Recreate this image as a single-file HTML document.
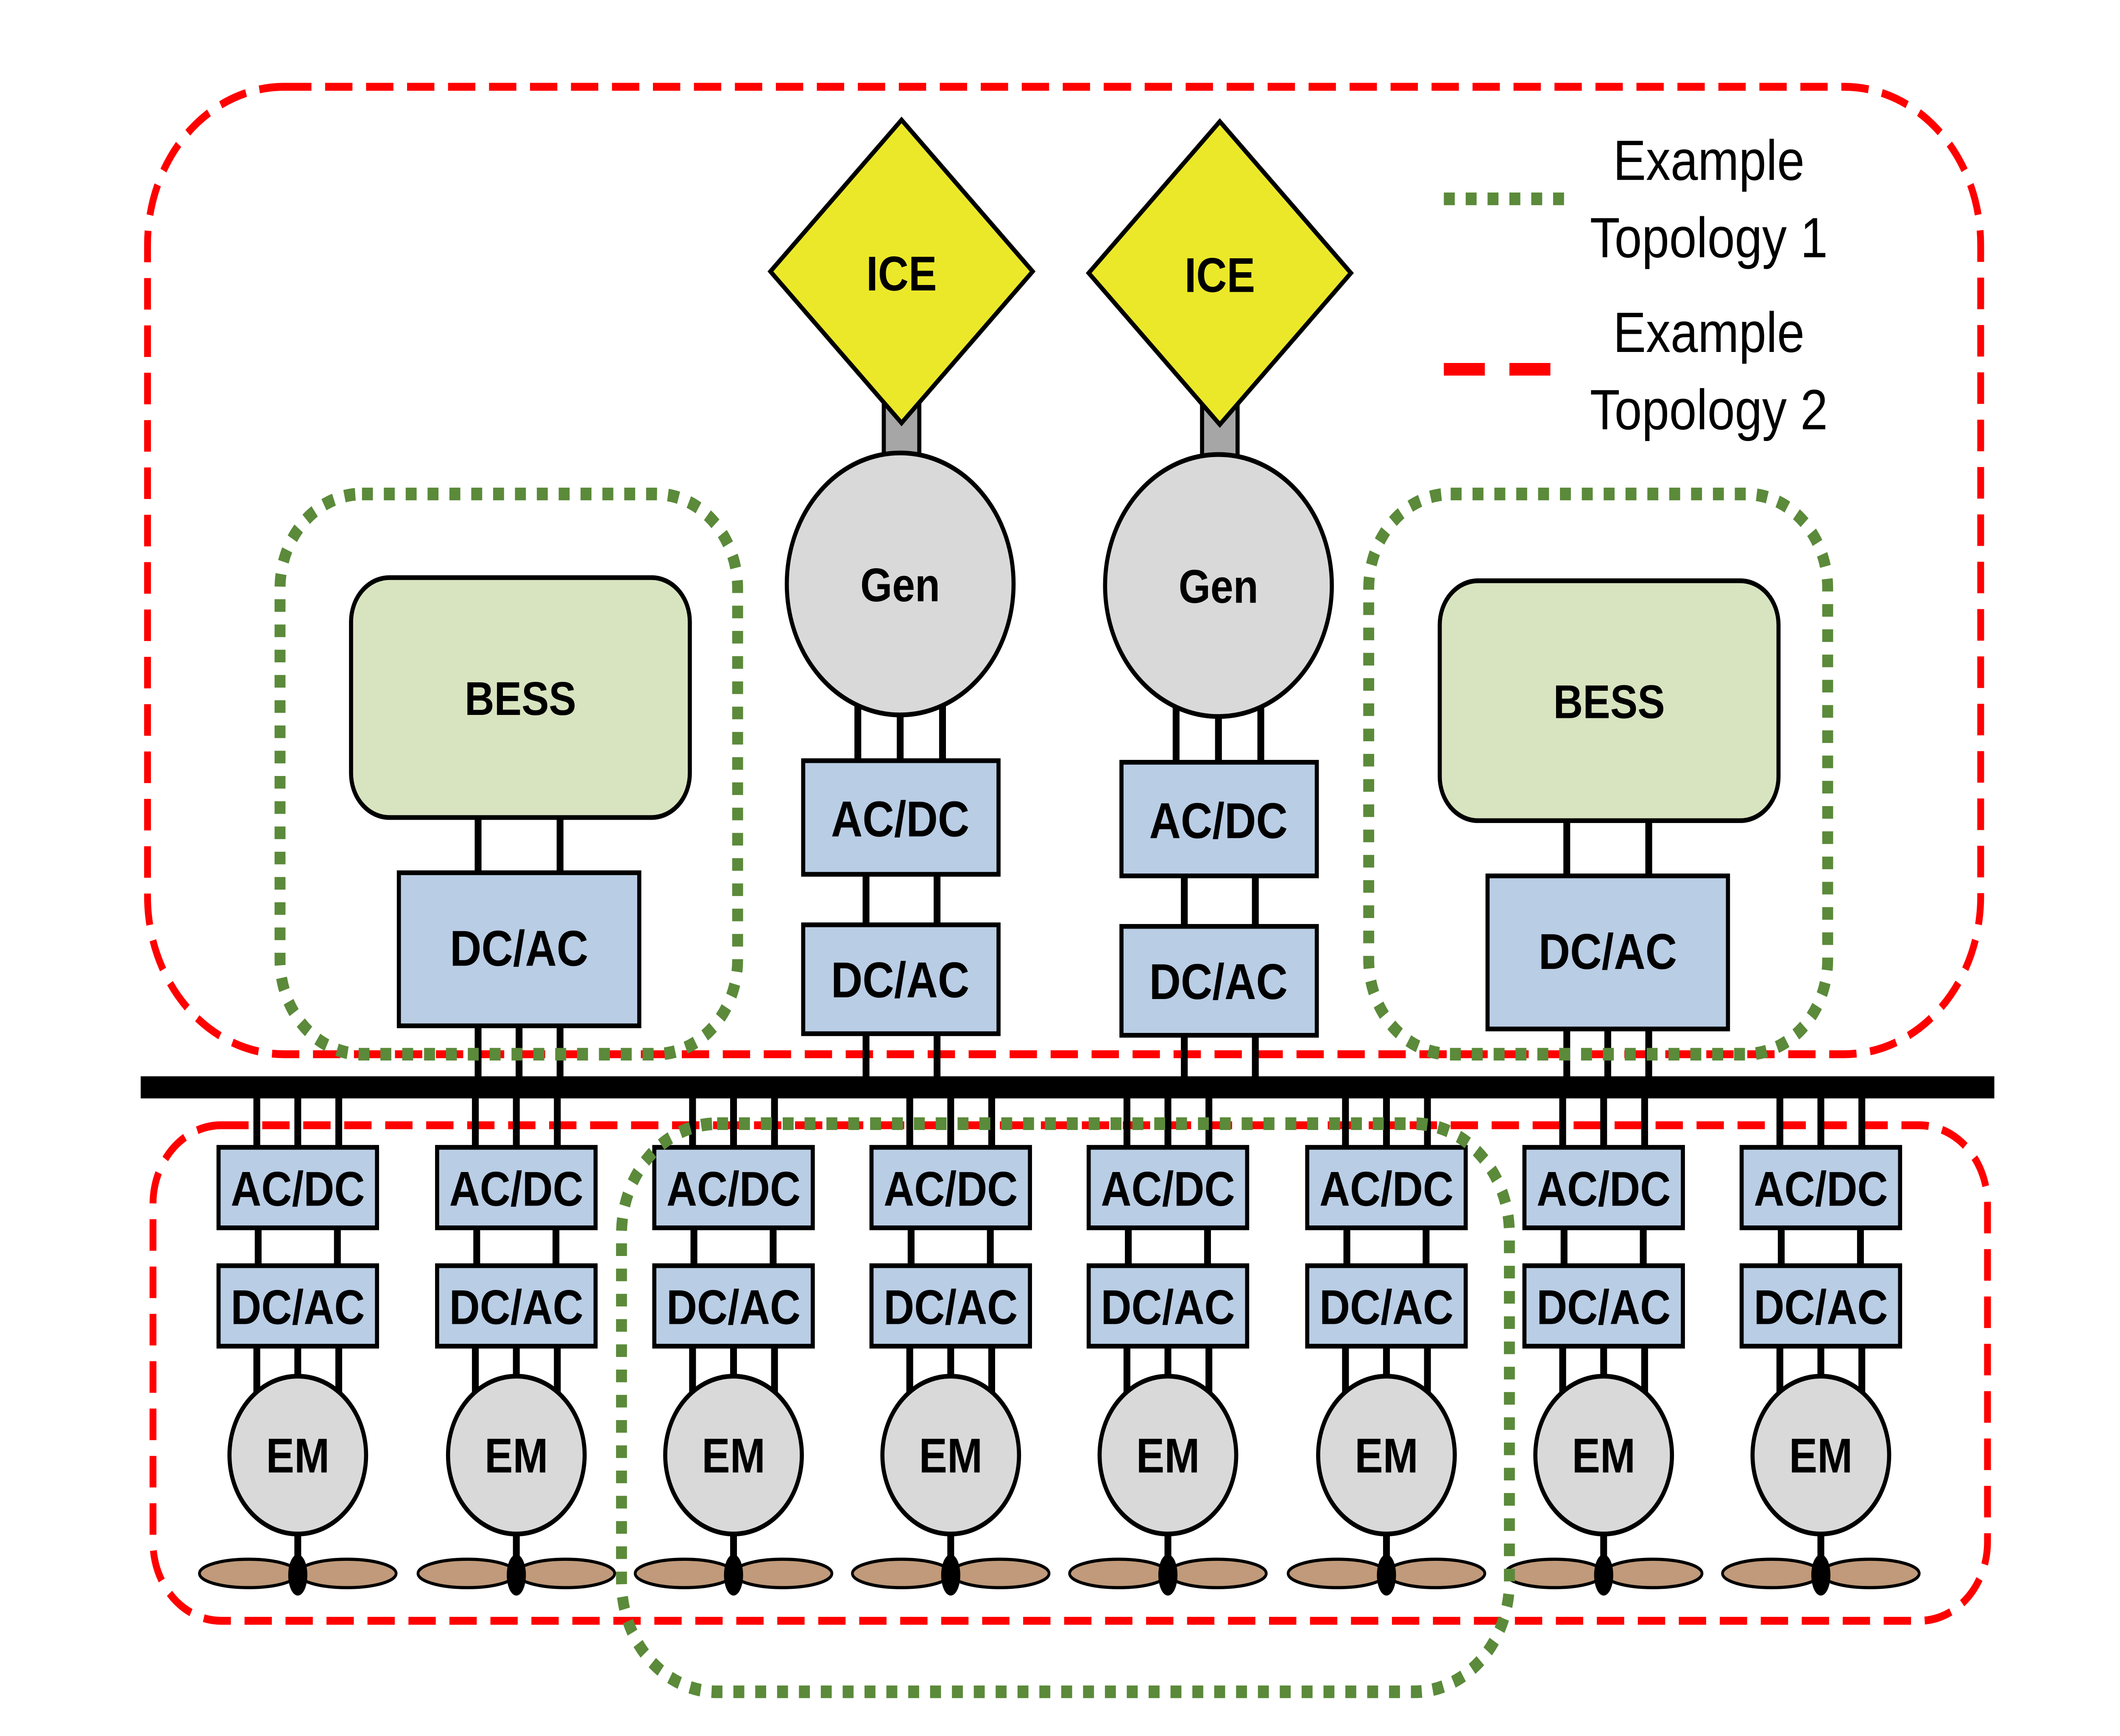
<!DOCTYPE html>
<html><head><meta charset="utf-8"><style>html,body{margin:0;padding:0;background:#fff;width:100%;height:100%;overflow:hidden}svg{display:block;width:100vw;height:100vh}</style></head>
<body>
<svg viewBox="0 0 1552 1100" preserveAspectRatio="none" xmlns="http://www.w3.org/2000/svg" font-family="Liberation Sans, sans-serif">
<defs>
<g id="col">
  <line x1="-30" y1="695" x2="-30" y2="727" stroke="#000" stroke-width="5"/>
  <line x1="0" y1="695" x2="0" y2="727" stroke="#000" stroke-width="5"/>
  <line x1="30" y1="695" x2="30" y2="727" stroke="#000" stroke-width="5"/>
  <line x1="-29" y1="778" x2="-29" y2="802" stroke="#000" stroke-width="5"/>
  <line x1="29" y1="778" x2="29" y2="802" stroke="#000" stroke-width="5"/>
  <line x1="-30" y1="853" x2="-30" y2="885" stroke="#000" stroke-width="5"/>
  <line x1="0" y1="853" x2="0" y2="885" stroke="#000" stroke-width="5"/>
  <line x1="30" y1="853" x2="30" y2="885" stroke="#000" stroke-width="5"/>
  <rect x="-58" y="727" width="116" height="51" fill="#b9cde5" stroke="#000" stroke-width="3"/>
  <text x="0" y="764" text-anchor="middle" font-size="31" font-weight="bold">AC/DC</text>
  <rect x="-58" y="802" width="116" height="51" fill="#b9cde5" stroke="#000" stroke-width="3"/>
  <text x="0" y="839" text-anchor="middle" font-size="31" font-weight="bold">DC/AC</text>
  <ellipse cx="-36" cy="997" rx="36" ry="9" fill="#c09a7a" stroke="#000" stroke-width="2"/>
  <ellipse cx="36" cy="997" rx="36" ry="9" fill="#c09a7a" stroke="#000" stroke-width="2"/>
  <line x1="0" y1="968" x2="0" y2="990" stroke="#000" stroke-width="5"/>
  <ellipse cx="0" cy="998" rx="7" ry="13" fill="#000"/>
  <circle cx="0" cy="922" r="50" fill="#d9d9d9" stroke="#000" stroke-width="3"/>
  <text x="0" y="933" text-anchor="middle" font-size="31" font-weight="bold">EM</text>
</g>
</defs>
<rect x="108" y="55" width="1342" height="613" rx="100" fill="none" stroke="#f00" stroke-width="5" stroke-dasharray="20,10"/>
<rect x="112" y="713" width="1343" height="314" rx="50" fill="none" stroke="#f00" stroke-width="5" stroke-dasharray="20,10"/>
<line x1="103" y1="689" x2="1460" y2="689" stroke="#000" stroke-width="14"/>
<g id="gen1">
<rect x="647" y="252" width="26" height="40" fill="#a6a6a6" stroke="#000" stroke-width="3"/>
<polygon points="660,76 756,172 660,268 564,172" fill="#ebe82a" stroke="#000" stroke-width="3"/>
<text x="660" y="184" text-anchor="middle" font-size="31" font-weight="bold">ICE</text>
<line x1="628" y1="440" x2="628" y2="482" stroke="#000" stroke-width="5"/>
<line x1="659" y1="440" x2="659" y2="482" stroke="#000" stroke-width="5"/>
<line x1="690" y1="440" x2="690" y2="482" stroke="#000" stroke-width="5"/>
<circle cx="659" cy="370" r="83" fill="#d9d9d9" stroke="#000" stroke-width="3"/>
<text x="659" y="381" text-anchor="middle" font-size="30" font-weight="bold">Gen</text>
<line x1="634" y1="554" x2="634" y2="586" stroke="#000" stroke-width="5"/>
<line x1="686" y1="554" x2="686" y2="586" stroke="#000" stroke-width="5"/>
<line x1="634" y1="655" x2="634" y2="689" stroke="#000" stroke-width="5"/>
<line x1="686" y1="655" x2="686" y2="689" stroke="#000" stroke-width="5"/>
<rect x="588" y="482" width="143" height="72" fill="#b9cde5" stroke="#000" stroke-width="3"/>
<text x="659" y="530" text-anchor="middle" font-size="32" font-weight="bold">AC/DC</text>
<rect x="588" y="586" width="143" height="69" fill="#b9cde5" stroke="#000" stroke-width="3"/>
<text x="659" y="632" text-anchor="middle" font-size="32" font-weight="bold">DC/AC</text>
</g>
<use href="#gen1" transform="translate(233,1)"/>
<g id="bess">
<line x1="350" y1="518" x2="350" y2="553" stroke="#000" stroke-width="5"/>
<line x1="410" y1="518" x2="410" y2="553" stroke="#000" stroke-width="5"/>
<line x1="350" y1="650" x2="350" y2="689" stroke="#000" stroke-width="5"/>
<line x1="380" y1="650" x2="380" y2="689" stroke="#000" stroke-width="5"/>
<line x1="410" y1="650" x2="410" y2="689" stroke="#000" stroke-width="5"/>
<rect x="257" y="366" width="248" height="152" rx="28" fill="#d8e4bf" stroke="#000" stroke-width="3"/>
<text x="381" y="453" text-anchor="middle" font-size="30" font-weight="bold">BESS</text>
<rect x="292" y="553" width="176" height="97" fill="#b9cde5" stroke="#000" stroke-width="3"/>
<text x="380" y="612" text-anchor="middle" font-size="32" font-weight="bold">DC/AC</text>
</g>
<use href="#bess" transform="translate(797,2)"/>
<use href="#col" transform="translate(218,0)"/>
<use href="#col" transform="translate(378,0)"/>
<use href="#col" transform="translate(537,0)"/>
<use href="#col" transform="translate(696,0)"/>
<use href="#col" transform="translate(855,0)"/>
<use href="#col" transform="translate(1015,0)"/>
<use href="#col" transform="translate(1174,0)"/>
<use href="#col" transform="translate(1333,0)"/>
<g fill="none" stroke="#5b8a3a" stroke-width="8" stroke-dasharray="8,8">
<rect x="205" y="313" width="335" height="355" rx="60"/>
<rect x="1002" y="313" width="336" height="355" rx="60"/>
<rect x="455" y="712" width="650" height="360" rx="70"/>
</g>
<line x1="1057" y1="126" x2="1145" y2="126" stroke="#5b8a3a" stroke-width="8" stroke-dasharray="8,8"/>
<line x1="1057" y1="234" x2="1145" y2="234" stroke="#f00" stroke-width="8" stroke-dasharray="30,18"/>
<g font-size="36" text-anchor="middle">
<text x="1251" y="114">Example</text>
<text x="1251" y="163">Topology 1</text>
<text x="1251" y="223">Example</text>
<text x="1251" y="272">Topology 2</text>
</g>
</svg>
</body></html>
